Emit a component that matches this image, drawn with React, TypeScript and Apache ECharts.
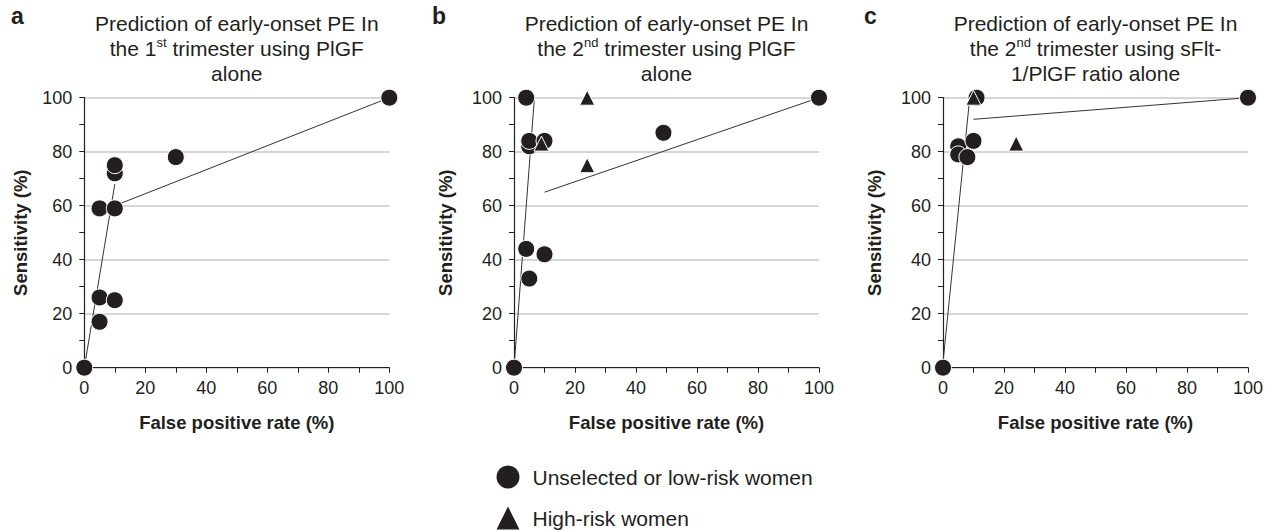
import React, { useEffect, useRef } from "react";
import * as echarts from "echarts";

const FONT = "'Liberation Sans', Arial, Helvetica, sans-serif";
const INK = "#231f20";

// Tick labels
const xTicks = [0, 20, 40, 60, 80, 100];
const yTicks = [0, 20, 40, 60, 80, 100];

// Legend names
const NAME_LOW = "Unselected or low-risk women";
const NAME_HIGH = "High-risk women";

// Panel a: 1st trimester, PlGF alone
const aCircles = [[0, 0], [5, 59], [10, 59], [10, 72], [10, 75], [5, 26], [10, 25], [5, 17], [30, 78], [100, 100]];
const aTriangles: number[][] = [];
const aLine1 = [[0, 0], [10, 68]];
const aLine2 = [[10, 60], [100, 100]];

// Panel b: 2nd trimester, PlGF alone
const bCircles = [[0, 0], [4, 100], [5, 82], [5, 84], [10, 84], [4, 44], [10, 42], [5, 33], [49, 87], [100, 100]];
const bTriangles = [[9, 83], [24, 100], [24, 75]];
const bLine1 = [[0, 0], [6.7, 100]];
const bLine2 = [[10, 65], [100, 100]];

// Panel c: 2nd trimester, sFlt-1/PlGF ratio alone
const cCircles = [[0, 0], [5, 82], [5, 79], [8, 78], [10, 84], [11, 100], [100, 100]];
const cTriangles = [[10, 100], [24, 83]];
const cLine1 = [[0, 2], [8.5, 97], [10, 100]];
const cLine2 = [[10, 92], [100, 100]];

const panels = [
  { letter: "a", sup: "st", num: "1", l1: "Prediction of early-onset PE In", l2a: "the ", l2b: " trimester using PlGF", l3: "alone", circles: aCircles, triangles: aTriangles, line1: aLine1, line2: aLine2 },
  { letter: "b", sup: "nd", num: "2", l1: "Prediction of early-onset PE In", l2a: "the ", l2b: " trimester using PlGF", l3: "alone", circles: bCircles, triangles: bTriangles, line1: bLine1, line2: bLine2 },
  { letter: "c", sup: "nd", num: "2", l1: "Prediction of early-onset PE In", l2a: "the ", l2b: " trimester using sFlt-", l3: "1/PlGF ratio alone", circles: cCircles, triangles: cTriangles, line1: cLine1, line2: cLine2 },
];

const GRID_LEFTS = [84.3, 514, 943];
const GRID_TOP = 97.7;
const GRID_W = 305;
const GRID_H = 270;
const NAME_GAPS_Y = [54, 59, 59];
const LETTER_X = [11, 432, 864];

export default function App() {
  const ref = useRef<HTMLDivElement>(null);
  useEffect(() => {
    if (!ref.current) return;
    const chart = echarts.init(ref.current, null, { renderer: "svg" });

    const grids: any[] = [];
    const xAxes: any[] = [];
    const yAxes: any[] = [];
    const series: any[] = [];
    const graphic: any[] = [];

    panels.forEach((p, i) => {
      grids.push({ left: GRID_LEFTS[i], top: GRID_TOP, width: GRID_W, height: GRID_H, containLabel: false });
      xAxes.push({
        type: "value",
        gridIndex: i,
        min: xTicks[0],
        max: xTicks[xTicks.length - 1],
        interval: xTicks[1] - xTicks[0],
        name: "False positive rate (%)",
        nameLocation: "middle",
        nameGap: 45,
        nameTextStyle: { fontFamily: FONT, fontWeight: "bold", fontSize: 18.5, color: INK },
        axisLine: { show: true, onZero: false, lineStyle: { color: INK, width: 1.2 } },
        axisTick: { show: true, inside: false, length: 5, lineStyle: { color: INK, width: 1 } },
        minorTick: { show: true, splitNumber: 2, length: 5, lineStyle: { color: INK, width: 1 } },
        axisLabel: { fontFamily: FONT, fontSize: 18, color: INK, margin: 11 },
        splitLine: { show: false },
      });
      yAxes.push({
        type: "value",
        gridIndex: i,
        min: yTicks[0],
        max: yTicks[yTicks.length - 1],
        interval: yTicks[1] - yTicks[0],
        name: "Sensitivity (%)",
        nameLocation: "middle",
        nameGap: NAME_GAPS_Y[i],
        nameRotate: 90,
        nameTextStyle: { fontFamily: FONT, fontWeight: "bold", fontSize: 18.5, color: INK },
        axisLine: { show: true, onZero: false, lineStyle: { color: INK, width: 1.2 } },
        axisTick: { show: true, inside: false, length: 5, lineStyle: { color: INK, width: 1 } },
        minorTick: { show: true, splitNumber: 2, length: 5, lineStyle: { color: INK, width: 1 } },
        axisLabel: { fontFamily: FONT, fontSize: 18, color: INK, margin: 12 },
        splitLine: { show: true, lineStyle: { color: "#c9c9c9", width: 1.6 } },
      });
      series.push({
        type: "line",
        xAxisIndex: i,
        yAxisIndex: i,
        data: p.line1,
        showSymbol: false,
        symbol: "none",
        lineStyle: { color: "#333", width: 1 },
        z: 1,
        silent: true,
      });
      series.push({
        type: "line",
        xAxisIndex: i,
        yAxisIndex: i,
        data: p.line2,
        showSymbol: false,
        symbol: "none",
        lineStyle: { color: "#333", width: 1 },
        z: 1,
        silent: true,
      });
      series.push({
        type: "scatter",
        name: NAME_LOW,
        xAxisIndex: i,
        yAxisIndex: i,
        data: p.circles,
        symbol: "circle",
        symbolSize: 17,
        itemStyle: { color: INK, borderColor: "#fff", borderWidth: 1, opacity: 1 },
        z: 3,
      });
      series.push({
        type: "scatter",
        name: NAME_HIGH,
        xAxisIndex: i,
        yAxisIndex: i,
        data: p.triangles,
        symbol: "triangle",
        symbolSize: 15,
        itemStyle: { color: INK, borderColor: "#fff", borderWidth: 1, opacity: 1 },
        z: 4,
      });

      const cx = GRID_LEFTS[i] + GRID_W / 2;
      graphic.push({
        type: "text",
        x: cx,
        y: 11,
        style: {
          text: `{n|${p.l1}}\n{n|${p.l2a}${p.num}}{s|${p.sup}}{n|${p.l2b}}\n{n|${p.l3}}`,
          align: "center",
          verticalAlign: "top",
          fontFamily: FONT,
          fontSize: 21,
          lineHeight: 25,
          fill: INK,
          rich: {
            n: { fontFamily: FONT, fontSize: 21, lineHeight: 25, fill: INK, color: INK },
            s: { fontFamily: FONT, fontSize: 13, lineHeight: 14, verticalAlign: "top", fill: INK, color: INK },
          },
        },
      });
      graphic.push({
        type: "text",
        x: LETTER_X[i],
        y: 4,
        style: { text: p.letter, fontFamily: FONT, fontWeight: "bold", fontSize: 23, fill: INK },
      });
    });

    const legendBase = {
      show: true,
      orient: "vertical",
      left: 496.5,
      padding: 0,
      itemWidth: 23,
      itemHeight: 23,
      itemStyle: { borderWidth: 0 },
      textStyle: { fontFamily: FONT, fontSize: 21, color: INK, padding: [0, 0, 0, 8] },
    };

    chart.setOption({
      animation: false,
      backgroundColor: "#ffffff",
      grid: grids,
      xAxis: xAxes,
      yAxis: yAxes,
      series,
      graphic,
      legend: [
        { ...legendBase, top: 465.5, data: [{ name: NAME_LOW, icon: "circle" }] },
        { ...legendBase, top: 506.5, data: [{ name: NAME_HIGH, icon: "triangle" }] },
      ],
    });
    return () => chart.dispose();
  }, []);
  return (
    <div
      ref={ref}
      style={{ position: "fixed", left: 0, top: 0, width: 1271, height: 531, background: "#fff" }}
    />
  );
}
